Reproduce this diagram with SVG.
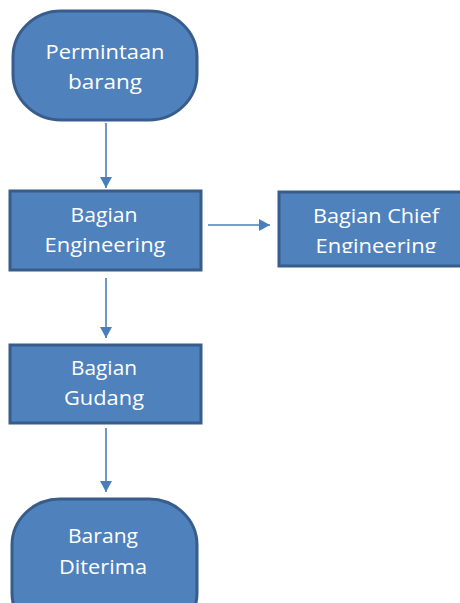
<svg xmlns="http://www.w3.org/2000/svg" width="460" height="603" viewBox="0 0 460 603">
  <style>
    .shape { fill: #4F81BD; stroke: #385D8A; stroke-width: 3; }
    .label { fill: #FFFFFF; font-family: "Open Sans", "Liberation Sans", sans-serif; font-size: 20.5px; text-anchor: middle; }
    .conn { stroke: #4A7EBB; stroke-width: 1.6; fill: none; marker-end: url(#arrow); }
  </style>
  <defs>
    <marker id="arrow" markerUnits="userSpaceOnUse" markerWidth="12" markerHeight="12" refX="11" refY="6" orient="auto">
      <path d="M0,0 L11,6 L0,12 z" fill="#4A7EBB"/>
    </marker>
    <clipPath id="chiefClip">
      <rect x="278" y="191" width="190" height="62"/>
    </clipPath>
  </defs>
  <rect width="460" height="603" fill="#FFFFFF"/>

  <g id="connectors">
    <line class="conn" x1="106" y1="123" x2="106" y2="188"/>
    <line class="conn" x1="208" y1="225" x2="270" y2="225"/>
    <line class="conn" x1="106" y1="278" x2="106" y2="338"/>
    <line class="conn" x1="106" y1="428" x2="106" y2="492"/>
  </g>

  <g id="permintaan-barang">
    <rect class="shape" x="13" y="11" width="184" height="109" rx="48" ry="46"/>
    <text class="label" x="105" y="59" textLength="119" lengthAdjust="spacingAndGlyphs">Permintaan</text>
    <text class="label" x="105" y="89" textLength="74" lengthAdjust="spacingAndGlyphs">barang</text>
  </g>

  <g id="bagian-engineering">
    <rect class="shape" x="10" y="191" width="191" height="79"/>
    <text class="label" x="104" y="222" textLength="67" lengthAdjust="spacingAndGlyphs">Bagian</text>
    <text class="label" x="105" y="252" textLength="121" lengthAdjust="spacingAndGlyphs">Engineering</text>
  </g>

  <g id="bagian-chief-engineering">
    <rect class="shape" x="279" y="192" width="190" height="74"/>
    <g clip-path="url(#chiefClip)">
      <text class="label" x="376" y="223" textLength="126" lengthAdjust="spacingAndGlyphs">Bagian Chief</text>
      <text class="label" x="376" y="253" textLength="121" lengthAdjust="spacingAndGlyphs">Engineering</text>
    </g>
  </g>

  <g id="bagian-gudang">
    <rect class="shape" x="10" y="345" width="191" height="78"/>
    <text class="label" x="104" y="375" textLength="66" lengthAdjust="spacingAndGlyphs">Bagian</text>
    <text class="label" x="104" y="405" textLength="80" lengthAdjust="spacingAndGlyphs">Gudang</text>
  </g>

  <g id="barang-diterima">
    <rect class="shape" x="12" y="499" width="185" height="140" rx="48" ry="46"/>
    <text class="label" x="103" y="543" textLength="70" lengthAdjust="spacingAndGlyphs">Barang</text>
    <text class="label" x="103" y="574" textLength="88" lengthAdjust="spacingAndGlyphs">Diterima</text>
  </g>
</svg>
